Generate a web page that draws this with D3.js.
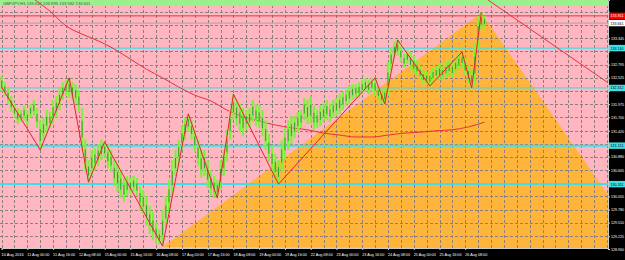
<!DOCTYPE html>
<html><head><meta charset="utf-8">
<script src="https://cdn.jsdelivr.net/npm/d3@7"></script>
<style>body{margin:0;background:#000}svg{display:block}</style>
</head><body>
<script>
// ---- data (2-hour bars, prices) ----
const barHigh = [132.56,132.43,132.31,132.14,131.98,131.89,131.85,131.94,131.85,131.98,132.06,131.89,131.64,131.69,131.85,131.81,132.06,132.14,132.31,132.43,
132.48,132.52,132.43,132.39,132.27,131.89,131.23,130.81,131.02,131.06,131.14,131.23,131.19,131.10,131.02,130.81,130.73,130.60,130.44,130.48,
130.44,130.48,130.44,130.27,130.19,130.06,129.86,129.73,129.52,129.36,129.77,130.06,130.40,130.81,131.02,131.23,131.52,131.69,131.77,131.64,
131.44,131.23,131.02,131.02,130.81,130.60,130.48,130.40,130.81,131.02,131.44,131.85,132.18,132.06,131.98,131.89,131.85,131.89,132.06,131.98,
131.94,131.85,131.64,131.35,131.10,130.94,130.81,131.23,131.48,131.64,131.73,131.73,131.81,131.85,132.10,132.06,132.14,131.94,131.85,131.94,
131.98,132.06,131.98,132.06,132.10,132.18,132.23,132.27,132.35,132.39,132.39,132.43,132.48,132.52,132.48,132.52,132.52,132.35,132.27,132.31,
132.85,133.14,133.27,133.31,133.18,133.02,133.10,133.06,132.98,132.89,132.77,132.68,132.64,132.64,132.73,132.77,132.81,132.77,132.85,132.89,
132.85,132.93,133.02,133.06,132.93,132.77,132.68,133.22,133.81,133.89,133.81];
const barLow = [132.23,132.14,131.98,131.81,131.69,131.56,131.60,131.64,131.52,131.69,131.73,131.48,131.02,131.23,131.39,131.48,131.56,131.69,131.85,132.06,
132.14,132.10,132.06,131.98,131.81,131.02,130.56,130.35,130.48,130.60,130.69,130.81,130.85,130.65,130.56,130.27,130.15,130.02,129.94,130.06,
130.10,130.15,130.06,129.77,129.69,129.44,129.27,129.15,129.06,129.06,129.02,129.40,129.73,130.06,130.48,130.73,131.02,131.23,131.39,131.23,
130.98,130.69,130.44,130.48,130.23,130.06,130.02,130.02,130.19,130.48,130.77,131.23,131.64,131.52,131.39,131.31,131.44,131.48,131.60,131.52,
131.48,131.31,131.02,130.77,130.56,130.40,130.31,130.56,130.81,131.02,131.14,131.27,131.39,131.48,131.64,131.56,131.56,131.44,131.48,131.52,
131.60,131.64,131.60,131.69,131.73,131.77,131.85,131.94,131.98,132.06,132.10,132.10,132.18,132.23,132.18,132.23,132.14,132.06,131.98,131.98,
132.14,132.68,132.93,132.98,132.85,132.73,132.81,132.68,132.60,132.56,132.48,132.39,132.39,132.35,132.43,132.48,132.48,132.48,132.52,132.56,
132.52,132.60,132.68,132.73,132.56,132.39,132.31,132.35,133.10,133.52,133.56];

// zigzag vertices: [bar index, price]
const zigzagIdx   = [0, 12, 21, 27, 32, 50, 58, 67, 72, 86, 116, 119, 123, 133, 143, 146, 149];
const zigzagPrice = [132.33,131.02,132.52,130.35,131.19,129.02,131.77,130.02,132.18,130.31,132.52,131.98,133.31,132.35,133.06,132.31,133.89];

// long moving average
const maIdx   = [8,10,15,20,25,30,35,40,45,50,55,60,65,70,75,80,85,90,95,100,105,110,115,120,125,130,135,140,145,150];
const maPrice = [134.26,134.16,133.91,133.60,133.43,133.29,133.12,132.91,132.70,132.52,132.33,132.16,132.04,131.85,131.71,131.62,131.54,131.48,131.44,131.37,131.33,131.29,131.29,131.33,131.37,131.39,131.42,131.44,131.50,131.60];

// descending trend line (right)
const trendIdx   = [150, 195];
const trendPrice = [134.19, 132.11];

// orange triangle
const triIdx   = [50, 149, 200];
const triPrice = [129.00, 133.87, 128.97];

// horizontal levels
const cyanLevels  = [133.14, 132.31, 131.11, 130.31];
const cyanLabels  = ["133.140", "132.312", "131.111", "130.311"];
const redLevel = 133.81, redLabel = "133.811";
const bidLevel = 133.66, bidLabel = "133.661";

// axis ticks
const priceTicks = [133.895,133.620,133.345,133.070,132.795,132.525,132.250,131.975,131.700,131.420,131.150,130.880,130.605,130.330,130.055,129.780,129.510,129.225,128.960];
const timeTickIdx = [0,8,16,24,32,40,48,56,64,72,80,88,96,104,112,120,128,136,144];
const timeLabels = ["10 Aug 2016","11 Aug 00:00","11 Aug 16:00","12 Aug 08:00","15 Aug 00:00","15 Aug 16:00","16 Aug 08:00","17 Aug 00:00","17 Aug 16:00","18 Aug 08:00","19 Aug 00:00","19 Aug 16:00","22 Aug 08:00","23 Aug 00:00","23 Aug 16:00","24 Aug 08:00","25 Aug 00:00","25 Aug 16:00","26 Aug 08:00"];
const gridIdx = d3.range(0, 189, 4);
const headerText = "GBPJPY,H1  133.642 133.895 133.592 133.611";

// ---- layout ----
const W = 625, H = 260, PR = 608, PB = 248;
const FONT = "'Liberation Sans', Arial, sans-serif";
const x = d3.scaleLinear().domain([0, 188.3]).range([1.6, 607.9]);
const y = d3.scaleLinear().domain([128.96, 134.14]).range([249, 0]);

const svg = d3.select("body").append("svg").attr("width", W).attr("height", H).style("font-family", FONT);
svg.append("rect").attr("width", W).attr("height", H).attr("fill", "#000");
svg.append("defs").append("clipPath").attr("id", "pc")
  .append("rect").attr("x", 0).attr("y", 0).attr("width", PR).attr("height", PB);
const g = svg.append("g").attr("clip-path", "url(#pc)");
g.append("rect").attr("width", PR).attr("height", PB).attr("fill", "#FFB6C1");

// triangle
g.append("path")
  .attr("d", d3.line().x(i => x(triIdx[i])).y(i => y(triPrice[i]))(d3.range(triIdx.length)) + "Z")
  .attr("fill", "#FFB43C");

// grid
g.selectAll(".vg").data(gridIdx).join("line")
  .attr("x1", d => Math.round(x(d)) + 0.5).attr("x2", d => Math.round(x(d)) + 0.5)
  .attr("y1", 0).attr("y2", PB)
  .attr("stroke", "#8a8080").attr("stroke-width", 1).attr("stroke-dasharray", "3,2");
g.selectAll(".hg").data(priceTicks).join("line")
  .attr("x1", 0).attr("x2", PR)
  .attr("y1", d => Math.round(y(d)) + 0.5).attr("y2", d => Math.round(y(d)) + 0.5)
  .attr("stroke", "#8a8080").attr("stroke-width", 1).attr("stroke-dasharray", "3,2");

// header band
g.append("rect").attr("x", 0).attr("y", 0).attr("width", PR).attr("height", 6).attr("fill", "#9BF08E");
g.append("text").attr("x", 3).attr("y", 4.6).attr("font-size", 4.2).attr("fill", "#3c5a3c").text(headerText);

// horizontal levels
g.append("line").attr("x1", 0).attr("x2", PR).attr("y1", y(redLevel)).attr("y2", y(redLevel))
  .attr("stroke", "#F03040").attr("stroke-width", 1);
g.append("line").attr("x1", 0).attr("x2", PR).attr("y1", y(bidLevel)).attr("y2", y(bidLevel))
  .attr("stroke", "#B49AA0").attr("stroke-width", 1);
g.selectAll(".cy").data(cyanLevels).join("line")
  .attr("x1", 0).attr("x2", PR).attr("y1", d => y(d)).attr("y2", d => y(d))
  .attr("stroke", "#3EE0E8").attr("stroke-width", (d, i) => i < 2 ? 1.2 : 2);

// moving average & trend line
g.append("path").attr("d", d3.line().curve(d3.curveMonotoneX).x(i => x(maIdx[i])).y(i => y(maPrice[i]))(d3.range(maIdx.length)))
  .attr("fill", "none").attr("stroke", "#E8303A").attr("stroke-width", 1);
g.append("path").attr("d", d3.line().x(i => x(trendIdx[i])).y(i => y(trendPrice[i]))(d3.range(trendIdx.length)))
  .attr("fill", "none").attr("stroke", "#E8303A").attr("stroke-width", 1);

// candles (bars)
const bars = d3.range(barHigh.length);
g.selectAll(".bar").data(bars).join("rect")
  .attr("x", i => x(i) - 1.1).attr("width", 2.2)
  .attr("y", i => y(barHigh[i])).attr("height", i => Math.max(1, y(barLow[i]) - y(barHigh[i])))
  .attr("fill", "#7CF23A");
g.selectAll(".core").data(bars).join("line")
  .attr("x1", i => x(i)).attr("x2", i => x(i))
  .attr("y1", i => y(barHigh[i]) + (y(barLow[i]) - y(barHigh[i])) * 0.3)
  .attr("y2", i => y(barLow[i]) - (y(barLow[i]) - y(barHigh[i])) * 0.3)
  .attr("stroke", "#1E8C22").attr("stroke-width", 0.8);

// zigzag
g.append("path").attr("d", d3.line().x(i => x(zigzagIdx[i])).y(i => y(zigzagPrice[i]))(d3.range(zigzagIdx.length)))
  .attr("fill", "none").attr("stroke", "#E8202E").attr("stroke-width", 1);

// ---- axes ----
const boxLevels = [redLevel, bidLevel, ...cyanLevels];
const ay = svg.append("g").attr("transform", `translate(${PR},0)`)
  .call(d3.axisRight(y).tickValues(priceTicks).tickFormat(d3.format(".3f")).tickSize(2).tickPadding(1));
ay.select(".domain").attr("stroke", "#ccc");
ay.selectAll(".tick line").attr("stroke", "#ccc");
ay.selectAll(".tick text").attr("fill", "#fff").attr("font-size", 4).attr("font-family", FONT)
  .attr("textLength", 13).attr("lengthAdjust", "spacingAndGlyphs")
  .style("display", d => boxLevels.some(b => Math.abs(y(b) - y(d)) < 6) ? "none" : null);

const ax = svg.append("g").attr("transform", `translate(0,${PB})`)
  .call(d3.axisBottom(x).tickValues(timeTickIdx).tickFormat((d, i) => timeLabels[i]).tickSize(2).tickPadding(2.5));
ax.select(".domain").attr("stroke", "#ccc");
ax.selectAll(".tick line").attr("stroke", "#ccc");
ax.selectAll(".tick text").attr("fill", "#fff").attr("font-size", 4.3).attr("text-anchor", "start").attr("dx", -0.5)
  .attr("textLength", 22).attr("lengthAdjust", "spacingAndGlyphs").attr("font-family", FONT);

// price boxes on the right axis
const boxes = [
  {p: redLevel, t: redLabel, bg: "#FF0000", fg: "#fff"},
  {p: bidLevel, t: bidLabel, bg: "#FFFFFF", fg: "#000"},
  ...cyanLevels.map((p, i) => ({p, t: cyanLabels[i], bg: "#3EE0E8", fg: "#000"}))
];
const bx = svg.append("g");
boxes.forEach(b => {
  bx.append("rect").attr("x", PR + 1).attr("y", y(b.p) - 3.2).attr("width", W - PR - 1).attr("height", 6.4).attr("fill", b.bg);
  bx.append("text").attr("x", PR + 2.5).attr("y", y(b.p) + 1.5).attr("font-size", 4).attr("fill", b.fg)
    .attr("textLength", 13).attr("lengthAdjust", "spacingAndGlyphs").text(b.t);
});
</script>
</body></html>
